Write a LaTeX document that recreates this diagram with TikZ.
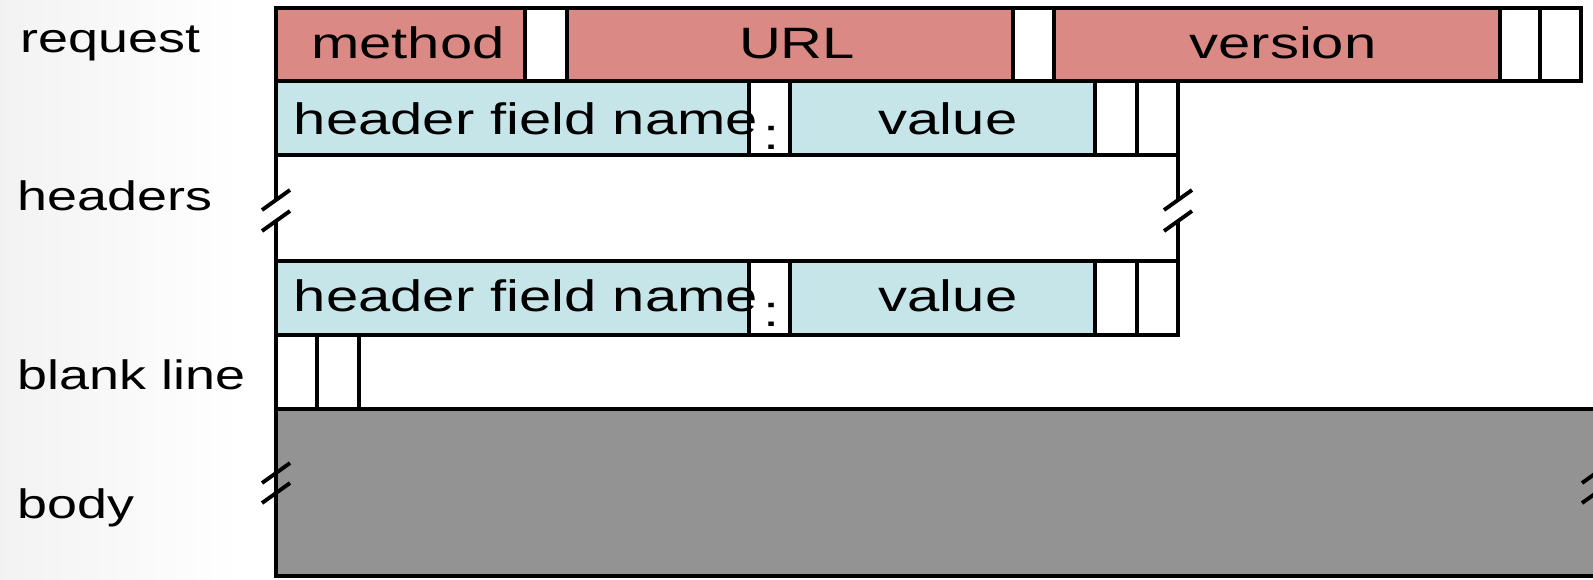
\documentclass[tikz,border=0pt]{standalone}
\usepackage{fontspec}
\setmainfont{Liberation Sans}
\usetikzlibrary{positioning}

\definecolor{reqred}{RGB}{219,137,133}
\definecolor{hdrblue}{RGB}{198,229,232}
\definecolor{bodygray}{RGB}{147,147,147}

\tikzset{
  box/.style={draw=black, line width=1.1pt},
  brk/.style={line width=1.1pt},
  fld/.style={font=\fontsize{12.5}{15}\selectfont, xscale=1.32, inner sep=0pt, anchor=base},
  lbl/.style={font=\fontsize{11.7}{14}\selectfont, xscale=1.31, inner sep=0pt, anchor=base west}
}

\begin{document}
\begin{tikzpicture}[x=0.1mm, y=-0.1mm]
  \useasboundingbox (0,0) rectangle (1593,579);
  \fill[white] (0,0) rectangle (1593,579);
  \shade[left color=black!5, right color=white] (0,0) rectangle (240,579);

  % request line
  \draw[box, fill=reqred] (276,8) rectangle (525,81);
  \draw[box, fill=white] (525,8) rectangle (567,81);
  \draw[box, fill=reqred] (567,8) rectangle (1013,81);
  \draw[box, fill=white] (1013,8) rectangle (1054,81);
  \draw[box, fill=reqred] (1054,8) rectangle (1500,81);
  \draw[box, fill=white] (1500,8) rectangle (1540,81);
  \draw[box, fill=white] (1540,8) rectangle (1581,81);

  % header lines
  \foreach \t/\b in {81/155, 261/335} {
    \draw[box, fill=hdrblue] (276,\t) rectangle (749,\b);
    \draw[box, fill=white] (749,\t) rectangle (790,\b);
    \draw[box, fill=hdrblue] (790,\t) rectangle (1095,\b);
    \draw[box, fill=white] (1095,\t) rectangle (1137,\b);
    \draw[box, fill=white] (1137,\t) rectangle (1178,\b);
  }

  % gap between headers
  \draw[box] (276,155) -- (276,200) (276,221) -- (276,261);
  \draw[box] (1178,155) -- (1178,200) (1178,221) -- (1178,261);
  \draw[brk] (262,210) -- (290,190) (262,231) -- (290,211);
  \draw[brk] (1164,210) -- (1192,190) (1164,231) -- (1192,211);

  % blank line
  \draw[box, fill=white] (276,335) rectangle (317,409);
  \draw[box, fill=white] (317,335) rectangle (359,409);

  % body
  \draw[box, fill=bodygray] (276,409) rectangle (1620,576);
  \draw[brk] (262,483) -- (290,463) (262,503) -- (290,483);
  \draw[brk] (1582,483) -- (1610,463) (1582,503) -- (1610,483);

  % field texts
  \node[fld] (method) at (408,58) {method};
  \node[fld] (url) at (797,58) {URL};
  \node[fld] (version) at (1283,58) {version};
  \node[fld, anchor=base west] (name1) at (293,134) {header field name};
  \node[fld] (colon1) at (772,149) {:};
  \node[fld] (value1) at (948,134) {value};
  \node[fld, anchor=base west] (name2) at (293,311) {header field name};
  \node[fld] (colon2) at (772,326) {:};
  \node[fld] (value2) at (948,311) {value};

  % row labels
  \node[lbl] (request) at (20,52) {request};
  \node[lbl] (headers) at (17,210) {headers};
  \node[lbl] (blank) at (17,389) {blank line};
  \node[lbl] (body) at (17,518) {body};
\end{tikzpicture}
\end{document}
